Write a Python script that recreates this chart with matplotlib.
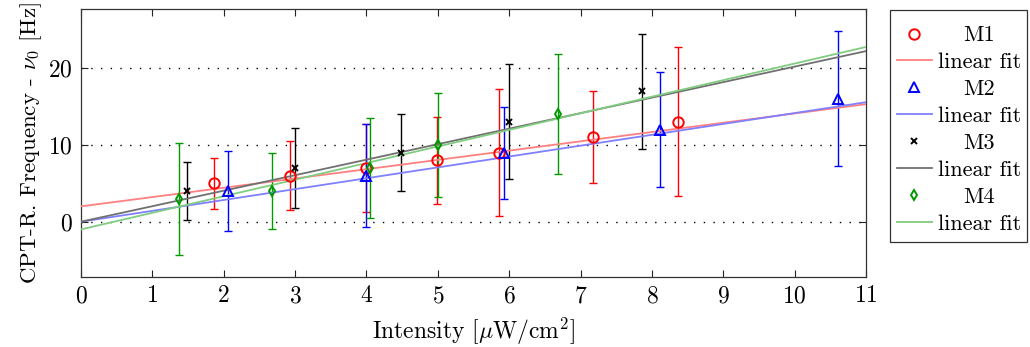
import matplotlib
matplotlib.use("Agg")
import matplotlib.pyplot as plt
from matplotlib.lines import Line2D
from matplotlib.patches import Rectangle
import numpy as np

plt.rcParams["font.family"] = ["cmr10", "DejaVu Serif"]
plt.rcParams["mathtext.fontset"] = "cm"
plt.rcParams["axes.formatter.use_mathtext"] = True
plt.rcParams["axes.unicode_minus"] = False

FS = 17

# Measurement series: intensity, frequency shift, uncertainty
m1_x = [1.87, 2.93, 3.99, 4.99, 5.86, 7.18, 8.37]
m1_y = [5.0, 6.0, 7.0, 8.0, 9.0, 11.0, 13.0]
m1_err = [3.3, 4.5, 5.7, 5.7, 8.3, 6.0, 9.7]

m2_x = [2.06, 3.99, 5.93, 8.11, 10.61]
m2_y = [4.0, 6.0, 9.0, 12.0, 16.0]
m2_err = [5.2, 6.7, 6.0, 7.5, 8.8]

m3_x = [1.49, 3.0, 4.49, 6.0, 7.86]
m3_y = [4.0, 7.0, 9.0, 13.0, 17.0]
m3_err = [3.75, 5.25, 5.0, 7.5, 7.5]

m4_x = [1.37, 2.68, 4.05, 5.0, 6.68]
m4_y = [3.0, 4.0, 7.0, 10.0, 14.0]
m4_err = [7.3, 5.0, 6.5, 6.8, 7.8]

# Linear fit coefficients (intercept, slope)
fit1 = (2.0, 1.21)
fit2 = (0.0, 1.415)
fit3 = (0.0, 2.02)
fit4 = (-1.0, 2.16)

series = [
    ("M1", m1_x, m1_y, m1_err, fit1, "#ff0000", "#ff8080", "o", 7.5),
    ("M2", m2_x, m2_y, m2_err, fit2, "#0000ff", "#8080ff", "^", 7),
    ("M3", m3_x, m3_y, m3_err, fit3, "#000000", "#707070", "x", 5),
    ("M4", m4_x, m4_y, m4_err, fit4, "#009900", "#80cc80", "d", 5.5),
]

fig = plt.figure(figsize=(10.30, 3.47), dpi=100)
ax = fig.add_axes([0.0786, 0.2017, 0.7622, 0.7723])

xs = np.array([0.0, 11.0])
handles = []
labels = []
for name, x, y, err, fit, col, fcol, mk, ms in series:
    ax.errorbar(x, y, yerr=err, fmt="none", ecolor=col, elinewidth=1.0,
                capsize=3.2, capthick=1.0, zorder=2)
    ax.plot(x, y, linestyle="none", marker=mk, markersize=ms,
            markerfacecolor="none", markeredgecolor=col, markeredgewidth=1.4,
            zorder=4)
    ax.plot(xs, fit[0] + fit[1] * xs, color=fcol, linewidth=1.3, zorder=3)
    handles.append(Line2D([], [], linestyle="none", marker=mk, markersize=ms,
                          markerfacecolor="none", markeredgecolor=col,
                          markeredgewidth=1.4))
    labels.append(name)
    handles.append(Line2D([], [], color=fcol, linewidth=1.3))
    labels.append("linear fit")

ax.set_xlim(0, 11)
ax.set_ylim(-7.2, 27.7)
ax.set_xticks(range(0, 12))
ax.set_yticks([0, 10, 20])
ax.yaxis.grid(True, linestyle=(0, (1, 6)), color="black", linewidth=1.0)
ax.tick_params(direction="in", length=5, width=0.8, top=True, right=True,
               labelsize=FS, pad=6, colors="#222222", labelcolor="black")
for sp in ax.spines.values():
    sp.set_color("#333333")
    sp.set_linewidth(0.9)

ax.set_xlabel(r"Intensity [$\mathrm{\mu}$W/cm$^2$]", fontsize=FS, labelpad=6)
ax.set_ylabel(r"CPT-R. Frequency - $\nu_0$ [Hz]", fontsize=16.5, labelpad=3)

# Legend entries without their own frame; the box is drawn separately
leg = fig.legend(handles, labels, loc="upper left",
                 bbox_to_anchor=(0.864, 0.945), fontsize=16, frameon=False,
                 handlelength=1.6, handletextpad=0.25, labelspacing=0.33,
                 borderpad=0.3, borderaxespad=0.0)
fig.patches.append(Rectangle((890 / 1030, 105 / 347), 137 / 1030, 232 / 347,
                             transform=fig.transFigure, fill=False,
                             edgecolor="#333333", linewidth=0.9))

# Center the short series names over the "linear fit" entries
fig.canvas.draw()
renderer = fig.canvas.get_renderer()
texts = leg.get_texts()
fit_w = texts[1].get_window_extent(renderer).width
for t in texts[0::2]:
    w = t.get_window_extent(renderer).width
    t.set_x((fit_w - w) / 2.0)

fig.savefig("out.png", dpi=100)
